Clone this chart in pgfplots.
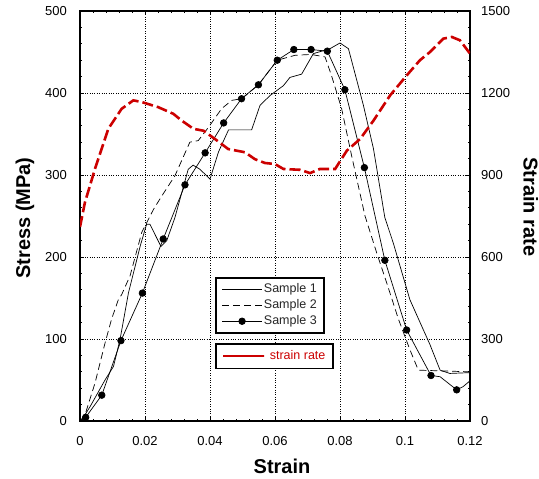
\documentclass[border=0pt]{standalone}
\usepackage{fontspec}
\setmainfont{Liberation Sans}
\usepackage{pgfplots}
\pgfplotsset{compat=1.18}
\definecolor{srred}{RGB}{204,0,0}
\pgfplotsset{onemarklegend/.style={legend image code/.code={\draw[##1, mark indices={2}] plot coordinates {(0bp,0bp) (20bp,0bp) (40bp,0bp)};}}}
\begin{document}
\begin{tikzpicture}
\path[use as bounding box] (-80bp,-58bp) rectangle (459bp,421bp);
\begin{axis}[
  at={(0bp,0bp)}, anchor=south west,
  scale only axis, width=390bp, height=410bp,
  xmin=0, xmax=0.12, ymin=0, ymax=500,
  xtick={0,0.02,0.04,0.06,0.08,0.1,0.12},
  ytick={0,100,200,300,400,500},
  scaled x ticks=false,
  /pgf/number format/assume math mode=true,
  xticklabel style={/pgf/number format/fixed,/pgf/number format/precision=2},
  tick label style={font=\fontsize{13bp}{15bp}\selectfont, inner sep=0pt},
  yticklabel style={xshift=-13bp},
  xticklabel style={yshift=-15bp},
  tick align=inside,
  major tick length=4bp, minor tick length=2bp,
  minor x tick num=4, minor y tick num=4,
  axis line style={line width=1.3bp},
  every tick/.style={black, line width=0.8bp},
  grid=major,
  major grid style={dotted, black, line width=0.8bp},
  xlabel={Strain}, ylabel={Stress (MPa)},
  label style={font=\fontsize{20bp}{22bp}\selectfont\bfseries},
  xlabel style={at={(axis description cs:0.518,-0.110)}, anchor=center},
  ylabel style={at={(axis description cs:-0.141,0.495)}, anchor=center, rotate=0},
  legend style={at={(axis description cs:0.346,0.351)}, anchor=north west,
    draw=black, line width=1.6bp, inner xsep=6bp, inner ysep=4.5bp,
    font=\fontsize{12.5bp}{14bp}\selectfont, text=black!85,
    nodes={inner sep=1.5bp, text height=9bp, text depth=2.5bp},
    cells={anchor=west}, row sep=1.3bp},
  legend image code/.code={\draw[mark repeat=2,mark phase=2,#1] plot coordinates {(0bp,0bp) (20bp,0bp) (40bp,0bp)};},
]
% Sample 1
\addplot[black, line width=0.7bp, mark=none] coordinates {
(0,0) (0.0005,1) (0.0031,17.5) (0.0077,50) (0.0103,66.5) (0.0123,99) (0.0149,156)
(0.0185,213) (0.0205,240) (0.0215,240) (0.0249,213) (0.0267,220) (0.0292,248)
(0.0333,307) (0.0348,312) (0.0369,307) (0.0400,295) (0.0426,328) (0.0457,355)
(0.0528,355) (0.0554,385) (0.0585,397) (0.0626,409) (0.0646,419) (0.0682,423)
(0.0718,448) (0.0769,454) (0.0800,461) (0.0826,454) (0.0872,385) (0.0903,332)
(0.0938,248) (0.0964,217) (0.1015,148) (0.1077,93) (0.1108,62) (0.1138,58) (0.12,59)
};
\addlegendentry{Sample 1}
% Sample 2
\addplot[black, line width=0.7bp, mark=none, dash pattern=on 7bp off 4bp] coordinates {
(0,0) (0.0015,7) (0.0046,46) (0.0077,95) (0.0097,124) (0.0118,148) (0.0128,154)
(0.0154,177) (0.0190,230) (0.0226,258) (0.0251,274) (0.0292,299) (0.0338,340)
(0.0364,342) (0.0395,358) (0.0436,381) (0.0467,391) (0.0497,393) (0.0549,410)
(0.0607,440) (0.0662,446) (0.0711,447) (0.0754,444) (0.0774,421) (0.0805,381)
(0.0836,323) (0.0877,250) (0.0913,205) (0.0944,168) (0.0980,124) (0.1015,87)
(0.1041,62) (0.12,60)
};
\addlegendentry{Sample 2}
% Sample 3
\addplot[black, line width=0.7bp, mark=*, mark size=3.3bp,
  mark options={solid, fill=black},
  mark indices={2,3,4,5,6,7,8,9,10,11,12,13,14,15,16,17,18,19,20,22},
  onemarklegend] coordinates {
(0,0) (0.00175,4.5) (0.0067,31.5) (0.0126,98) (0.0192,156) (0.0256,222)
(0.0323,288) (0.0385,327) (0.0442,363.5) (0.0497,393) (0.0549,410) (0.0607,440)
(0.0658,453) (0.0711,453) (0.0761,451) (0.0815,404) (0.0875,309) (0.0938,196)
(0.1005,111) (0.1080,55.5) (0.1108,54) (0.1159,38) (0.1179,42) (0.12,49)
};
\addlegendentry{Sample 3}
\end{axis}
\begin{axis}[
  at={(0bp,0bp)}, anchor=south west,
  scale only axis, width=390bp, height=410bp,
  xmin=0, xmax=0.12, ymin=0, ymax=1500,
  axis x line=none, axis y line*=right,
  ytick={0,300,600,900,1200,1500},
  /pgf/number format/assume math mode=true,
  /pgf/number format/1000 sep={},
  tick label style={font=\fontsize{13bp}{15bp}\selectfont, inner sep=0pt},
  yticklabel style={xshift=11bp},
  tick align=inside, major tick length=4bp,
  axis line style={line width=1.3bp},
  every tick/.style={black, line width=0.8bp},
  ylabel={Strain rate},
  label style={font=\fontsize{20bp}{22bp}\selectfont\bfseries},
  ylabel style={at={(axis description cs:1.156,0.522)}, anchor=center, rotate=180},
  legend style={at={(axis description cs:0.346,0.190)}, anchor=north west,
    draw=black, line width=1.6bp, inner xsep=6bp, inner ysep=5bp,
    font=\fontsize{12.5bp}{14bp}\selectfont, text=srred,
    nodes={inner sep=1.5bp, text height=9bp, text depth=2.5bp},
    cells={anchor=west}},
  legend image code/.code={\path (0bp,0bp) -- (44bp,0bp); \draw[#1] (11bp,0bp) -- (41bp,0bp);},
]
\addplot[srred, line width=2.6bp, dash pattern=on 11bp off 4bp, mark=none] coordinates {
(0,710) (0.0015,799) (0.0046,922) (0.0087,1069) (0.0128,1142) (0.0164,1173)
(0.0190,1167) (0.0241,1148) (0.0287,1124) (0.0313,1099) (0.0349,1069) (0.0380,1062)
(0.0415,1032) (0.0456,995) (0.0508,983) (0.0538,958) (0.0569,944) (0.0600,940)
(0.0626,922) (0.0677,919) (0.0708,907) (0.0738,922) (0.0785,922) (0.0821,989)
(0.0862,1032) (0.0903,1099) (0.0954,1191) (0.1005,1264) (0.1046,1320) (0.1077,1350)
(0.1118,1399) (0.1144,1405) (0.1169,1393) (0.12,1344)
};
\addlegendentry{strain rate}
\end{axis}
\end{tikzpicture}
\end{document}
